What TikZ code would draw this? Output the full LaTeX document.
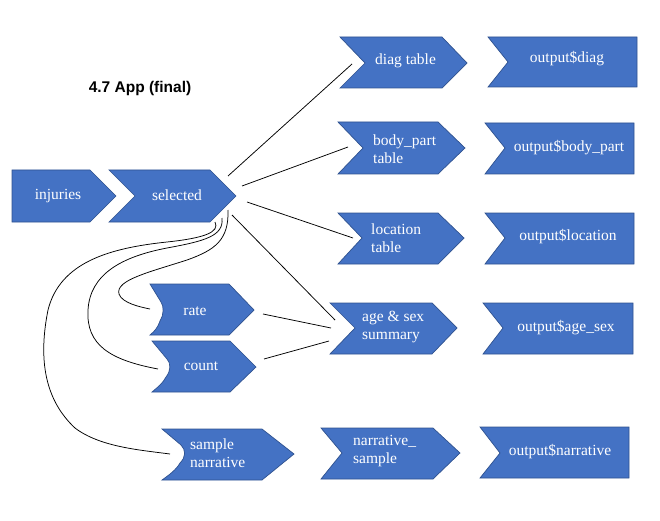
\documentclass[tikz,border=0pt]{standalone}
\usepackage{fontspec}
\setmainfont{Liberation Serif}
\newfontfamily\boxfont{Liberation Serif}
\newfontfamily\titlefont{Liberation Sans}
\definecolor{boxblue}{HTML}{4472C4}
\definecolor{boxedge}{HTML}{2F528F}
\tikzset{
  shapebox/.style={fill=boxblue, draw=boxedge, line width=0.7pt, line join=miter},
  lbl/.style={text=white, font=\boxfont\fontsize{15.5}{18}\selectfont, inner sep=0pt},
  lbll/.style={lbl, anchor=west, align=left},
  conn/.style={draw=black, line width=0.75pt},
}
\begin{document}
\begin{tikzpicture}[x=1pt,y=-1pt]
\useasboundingbox (0,0) rectangle (660,521);

% title
\node[font=\titlefont\bfseries\fontsize{15.5}{18}\selectfont, inner sep=0pt] (title) at (140,88) {4.7 App (final)};

% shapes
\path[shapebox] (12,170) -- (90,170) -- (116,196) -- (90,222) -- (12,222) -- cycle;
\path[shapebox] (109,170) -- (210,170) -- (236,196) -- (210,222) -- (109,222) -- (135,196) -- cycle;

\path[shapebox] (340,37) -- (442,37) -- (467,63) -- (442,88) -- (340,88) -- (365,63) -- cycle;
\path[shapebox] (488,37) -- (637,37) -- (637,87) -- (488,87) -- (508,62) -- cycle;

\path[shapebox] (338,122) -- (438,122) -- (465,148) -- (438,174) -- (338,174) -- (363,148) -- cycle;
\path[shapebox] (485,123) -- (634,123) -- (634,174) -- (485,174) -- (505,148) -- cycle;

\path[shapebox] (338,213) -- (438,213) -- (464,238) -- (438,264) -- (338,264) -- (362,238) -- cycle;
\path[shapebox] (485,213) -- (634,213) -- (634,264) -- (485,264) -- (505,238) -- cycle;

\path[shapebox] (330,303) -- (432,303) -- (457,328) -- (432,354) -- (330,354) -- (355,328) -- cycle;
\path[shapebox] (483,303) -- (633,303) -- (633,354) -- (483,354) -- (503,328) -- cycle;

\path[shapebox] (321,428) -- (433,428) -- (460,453) -- (433,479) -- (321,479) -- (342,453) -- cycle;
\path[shapebox] (480,427) -- (629,427) -- (629,478) -- (480,478) -- (500,453) -- cycle;

% rounded-notch shapes
\path[shapebox] (150,284) -- (229,284) -- (254,310) -- (229,335) -- (150,335)
   .. controls (155,331) and (158,327) .. (160,321)
   .. controls (164,315) and (164,306) .. (161,302) -- cycle;
\path[shapebox] (152,341) -- (230,341) -- (256,367) -- (230,392) -- (152,392)
   .. controls (158,387) and (163,383) .. (166,377)
   .. controls (171,371) and (171,363) .. (167,359) -- cycle;
\path[shapebox] (162,429) -- (262,429) -- (294,454) -- (262,480) -- (162,480)
   .. controls (169,475) and (176,470) .. (180,463)
   .. controls (186,457) and (186,450) .. (181,445) -- cycle;

% labels
\node[lbl] (injuries) at (58,196) {injuries};
\node[lbl] (selected) at (177,195) {selected};
\node[lbll] (diag) at (375,61) {diag table};
\node[lbl] (odiag) at (567,59) {output\$diag};
\node[lbll] (body) at (373,149) {body\_part\\table};
\node[lbl] (obody) at (569,148) {output\$body\_part};
\node[lbll] (loc) at (371,238) {location\\table};
\node[lbl] (oloc) at (568,237) {output\$location};
\node[lbl] (rate) at (195,311) {rate};
\node[lbl] (count) at (201,366) {count};
\node[lbll] (agesex) at (362,327) {age \& sex\\summary};
\node[lbl] (oagesex) at (566,328) {output\$age\_sex};
\node[lbll] (sample) at (190,453) {sample\\narrative};
\node[lbll] (narr) at (353,451) {narrative\_\\sample};
\node[lbl] (onarr) at (560,452) {output\$narrative};

% connector end points
\coordinate (s1) at (228,176);
\coordinate (s2) at (242,186);
\coordinate (s3) at (247,202);
\coordinate (s4) at (232,215);
\coordinate (s5) at (228,210);
\coordinate (s6) at (222,218);
\coordinate (s7) at (215,222);
\coordinate (d1) at (352,64);
\coordinate (b1) at (348,147);
\coordinate (l1) at (353,238);
\coordinate (a1) at (335,320);
\coordinate (a2) at (331,328);
\coordinate (a3) at (329,341);
\coordinate (r1) at (263,314);
\coordinate (r0) at (150,309);
\coordinate (c1) at (264,359);
\coordinate (c0) at (158,369);
\coordinate (n0) at (170,454);

% straight connectors
\draw[conn] (s1) -- (d1);
\draw[conn] (s2) -- (b1);
\draw[conn] (s3) -- (l1);
\draw[conn] (s4) -- (a1);
\draw[conn] (r1) -- (a2);
\draw[conn] (c1) -- (a3);

% curved connectors
\draw[conn] (s5) .. controls (229,240) and (215,250) .. (187,260)
   .. controls (150,272) and (115,280) .. (119,294)
   .. controls (122,303) and (140,307) .. (r0);
\draw[conn] (s6) .. controls (224,236) and (205,241) .. (167,248)
   .. controls (120,257) and (90,275) .. (88,310)
   .. controls (86,345) and (110,360) .. (c0);
\draw[conn] (s7) .. controls (220,232) and (205,238) .. (167,242)
   .. controls (110,248) and (60,262) .. (48,310)
   .. controls (38,360) and (45,400) .. (75,428)
   .. controls (100,447) and (140,450) .. (n0);
\end{tikzpicture}
\end{document}
